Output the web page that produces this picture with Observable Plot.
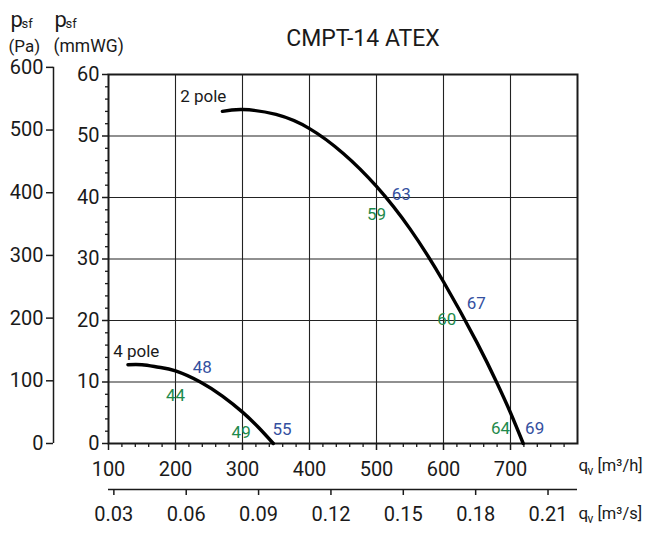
<!DOCTYPE html>
<html>
<head>
<meta charset="utf-8">
<script src="https://cdn.jsdelivr.net/npm/d3@7"></script>
<script src="https://cdn.jsdelivr.net/npm/@observablehq/plot@0.6"></script>
<style>
  html, body { margin: 0; padding: 0; background: #fff; }
</style>
</head>
<body>
<div id="chart"></div>
<script>
// ---- data (q in m³/h, p in mmWG) ----
const twoPoleQ = [270, 300, 350, 400, 450, 500, 550, 600, 650, 680, 700, 719];
const twoPoleP = [54.0, 54.3, 53.5, 51.2, 47.2, 41.8, 34.9, 26.3, 16.4, 9.8, 5.0, 0];
const fourPoleQ = [129, 150, 175, 200, 237, 270, 300, 324, 346];
const fourPoleP = [12.8, 12.8, 12.4, 11.8, 10.0, 7.7, 5.1, 2.6, 0];

const blueText = ["48", "55", "63", "67", "69"];
const blueQ = [240, 359, 537, 649, 736];
const blueP = [12.4, 2.2, 40.4, 22.8, 2.4];
const greenText = ["44", "49", "59", "60", "64"];
const greenQ = [200, 298, 500, 605, 685];
const greenP = [7.8, 1.7, 37.2, 20.1, 2.4];

const curveNames = ["2 pole", "4 pole"];
const curveNameQ = [207, 107];
const curveNameP = [56.4, 15.0];

const qhTicks = [100, 200, 300, 400, 500, 600, 700];
const qsTicks = [0.03, 0.06, 0.09, 0.12, 0.15, 0.18, 0.21];
const mmTicks = [0, 10, 20, 30, 40, 50, 60];
const paTicks = [0, 100, 200, 300, 400, 500, 600];
const PA_PER_MMWG = 9.81;

const title = "CMPT-14 ATEX";

// ---- tables ----
const twoPole = twoPoleQ.map((q, i) => ({q, p: twoPoleP[i]}));
const fourPole = fourPoleQ.map((q, i) => ({q, p: fourPoleP[i]}));
const blue = blueText.map((t, i) => ({t, q: blueQ[i], p: blueP[i]}));
const green = greenText.map((t, i) => ({t, q: greenQ[i], p: greenP[i]}));
const names = curveNames.map((t, i) => ({t, q: curveNameQ[i], p: curveNameP[i]}));

const minorX = d3.range(100, 801, 20).filter(v => v % 100 !== 0);
const minorY = d3.range(0, 61, 2).filter(v => v % 10 !== 0);

const ink = "#1a1a1a";
const blueC = "#34509f";
const greenC = "#1e8a4c";
const txt = (s, o) => Plot.text([s], {textAnchor: "start", fill: ink, ...o});

const chart = Plot.plot({
  width: 651,
  height: 533,
  marginLeft: 108,
  marginRight: 74,
  marginTop: 74,
  marginBottom: 90,
  x: {domain: [100, 800]},
  y: {domain: [0, 60]},
  style: {fontFamily: "Roboto, 'DejaVu Sans', sans-serif", fontSize: "20px", color: ink, background: "#fff"},
  marks: [
    Plot.gridX(d3.range(200, 800, 100), {stroke: "#222", strokeOpacity: 1, strokeWidth: 1.1}),
    Plot.gridY(d3.range(10, 60, 10), {stroke: "#222", strokeOpacity: 1, strokeWidth: 1.1}),
    Plot.frame({stroke: ink, strokeWidth: 2}),
    // primary axes
    Plot.axisX(qhTicks, {label: null, tickSize: 7, tickPadding: 11, strokeWidth: 1.5, tickFormat: d => d}),
    Plot.axisX(minorX, {label: null, tickSize: 4, text: null, strokeWidth: 1.3}),
    Plot.axisY(mmTicks, {label: null, tickSize: 6, tickPadding: 3, strokeWidth: 1.5, tickFormat: d => d}),
    Plot.axisY(minorY, {label: null, tickSize: 3, text: null, strokeWidth: 1.3}),
    // Pa axis (secondary, left)
    Plot.ruleX([100], {y1: 0, y2: 600 / PA_PER_MMWG, dx: -55, stroke: ink, strokeWidth: 1.5}),
    Plot.axisY(paTicks.map(v => v / PA_PER_MMWG), {label: null, dx: -55, tickSize: 7, tickPadding: 3, strokeWidth: 1.5,
      tickFormat: d => Math.round(d * PA_PER_MMWG)}),
    // m³/s axis (secondary, bottom)
    Plot.ruleY([0], {x1: 100, x2: 800, dy: 46, stroke: ink, strokeWidth: 1.5}),
    Plot.axisX(qsTicks.map(v => v * 3600), {label: null, dy: 46, tickSize: 6, tickPadding: 11, strokeWidth: 1.5,
      tickFormat: d => (d / 3600).toFixed(2)}),
    // curves
    Plot.line(twoPole, {x: "q", y: "p", curve: "natural", stroke: "#000", strokeWidth: 3.4}),
    Plot.line(fourPole, {x: "q", y: "p", curve: "natural", stroke: "#000", strokeWidth: 3.4}),
    Plot.text(names, {x: "q", y: "p", text: "t", textAnchor: "start", fontSize: 17, fill: ink}),
    Plot.text(blue, {x: "q", y: "p", text: "t", fontSize: 17, fill: blueC}),
    Plot.text(green, {x: "q", y: "p", text: "t", fontSize: 17, fill: greenC}),
    // headings
    Plot.text([title], {frameAnchor: "top", dx: 20, dy: -45, fontSize: 23, fill: ink}),
    txt("p", {frameAnchor: "top-left", dx: -98, dy: -63, fontSize: 22}),
    txt("sf", {frameAnchor: "top-left", dx: -87, dy: -56, fontSize: 13}),
    txt("(Pa)", {frameAnchor: "top-left", dx: -100, dy: -35, fontSize: 17}),
    txt("p", {frameAnchor: "top-left", dx: -54, dy: -63, fontSize: 22}),
    txt("sf", {frameAnchor: "top-left", dx: -43, dy: -56, fontSize: 13}),
    txt("(mmWG)", {frameAnchor: "top-left", dx: -55, dy: -35, fontSize: 17.5}),
    txt("q", {frameAnchor: "bottom-right", dx: 1, dy: 27, fontSize: 17}),
    txt("v", {frameAnchor: "bottom-right", dx: 10, dy: 31, fontSize: 12}),
    txt("[m³/h]", {frameAnchor: "bottom-right", dx: 20, dy: 27, fontSize: 16.5}),
    txt("q", {frameAnchor: "bottom-right", dx: 1, dy: 75, fontSize: 17}),
    txt("v", {frameAnchor: "bottom-right", dx: 10, dy: 79, fontSize: 12}),
    txt("[m³/s]", {frameAnchor: "bottom-right", dx: 20, dy: 75, fontSize: 16.5})
  ]
});
document.getElementById("chart").appendChild(chart);
</script>
</body>
</html>
